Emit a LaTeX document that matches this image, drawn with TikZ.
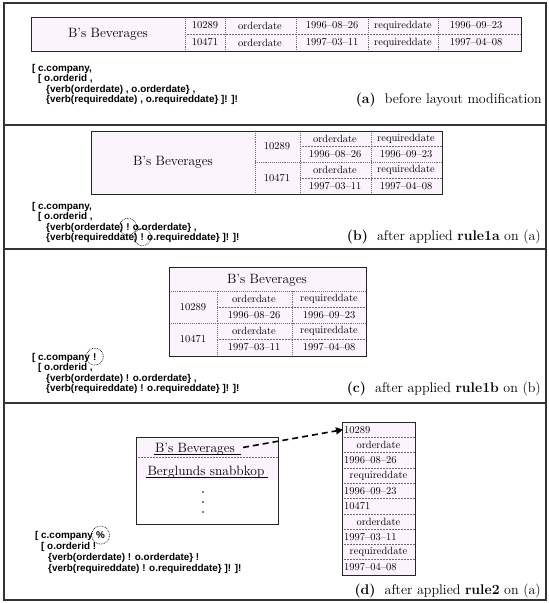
\documentclass[tikz,border=0pt]{standalone}
\usepackage{fontspec}
\newfontfamily\codefont{Liberation Sans}
\usetikzlibrary{arrows.meta}
\definecolor{cellpink}{RGB}{252,244,252}
\definecolor{rulegray}{RGB}{110,110,110}
\tikzset{
  frame/.style={line width=1.1pt, black!80},
  outer/.style={line width=0.8pt, black!85},
  sep/.style={rulegray, densely dotted, line width=0.9pt},
  subsep/.style={rulegray, densely dotted, line width=0.5pt},
  cell/.style={inner sep=1pt, font=\fontsize{10.5}{11}\selectfont},
  bev/.style={inner sep=1pt, font=\fontsize{13.5}{15}\selectfont},
  code/.style={inner sep=0pt, anchor=base west, font=\codefont\bfseries\fontsize{9.9}{11}\selectfont},
  capt/.style={inner sep=0pt, anchor=base east, font=\fontsize{14}{16}\selectfont},
  ring/.style={densely dotted, line width=0.7pt}
}
\begin{document}
\begin{tikzpicture}[x=1pt,y=-1pt]
            \useasboundingbox (0,0) rectangle (549,603);
            \draw[frame] (4,3) rectangle (546,600);
            \draw[frame] (4,125)--(546,125);
            \draw[frame] (4,249)--(546,249);
            \draw[frame] (4,403)--(546,403);
            \fill[cellpink] (31,17) rectangle (521,51);
            \draw[subsep] (185,34)--(521,34);
            \foreach \x in {185,225,296,368,438} \draw[sep] (\x,17)--(\x,51);
            \draw[outer] (31,17) rectangle (521,51);
            \node[bev] (a-co) at (108,34) {B's Beverages};
            \foreach \x/\p/\q [count=\i] in {205/10289/10471,260/orderdate/orderdate,332/1996–08–26/1997–03–11,403/requireddate/requireddate,476/1996–09–23/1997–04–08}
            {\node[cell] (a-u\i) at (\x,25.5) {\p}; \node[cell] (a-v\i) at (\x,42.5) {\q};}
            \node[code] (a-l1) at (32,71) {[ c.company,};
            \node[code] (a-l2) at (38,81.5) {[ o.orderid ,};
            \node[code] (a-l3) at (46,92) {\{verb(orderdate) , o.orderdate\} ,};
            \node[code] (a-l4) at (46,102.5) {\{verb(requireddate) , o.requireddate\} ]! ]!};
            \node[capt] (a-cap) at (542,103) {\textbf{(a)}\ \ before layout modification};
            \begin{scope}
                \fill[cellpink] (91,131) rectangle (442,194);
                \draw[sep] (255,131)--(255,194);
                \draw[sep] (300,131)--(300,194);
                \draw[sep] (371,131)--(371,194);
                \draw[sep] (255,162.5)--(442,162.5);
                \draw[subsep] (300,146.5)--(442,146.5);
                \draw[subsep] (300,178)--(442,178);
                \draw[outer] (91,131) rectangle (442,194);
                \node[bev] (b-co) at (173,162) {B's Beverages};
                \node[cell] (b-id1) at (277,146.5) {10289};
                \node[cell] (b-id2) at (277,178) {10471};
                \foreach \y/\p/\q [count=\i] in {138.5/orderdate/requireddate,154.5/1996–08–26/1996–09–23,170/orderdate/requireddate,186/1997–03–11/1997–04–08}
                {\node[cell] (b-o\i) at (335,\y) {\p}; \node[cell] (b-q\i) at (406,\y) {\q};}
                \node[code] (b-l1) at (32,209) {[ c.company,};
                \node[code] (b-l2) at (38,219.5) {[ o.orderid ,};
                \node[code] (b-l3) at (46,230) {\{verb(orderdate)};
                \node[code] (b-x1) at ([xshift=2.8pt]b-l3.base east) {!};
                \node[code] (b-l3r) at ([xshift=2.8pt]b-x1.base east) {o.orderdate\} ,};
                \node[code] (b-l4) at (46,240.5) {\{verb(requireddate)};
                \node[code] (b-x2) at ([xshift=2.8pt]b-l4.base east) {!};
                \node[code] (b-l4r) at ([xshift=2.8pt]b-x2.base east) {o.requireddate\} ]! ]!};
                \draw[ring] (b-x1) circle (8.5pt);
                \draw[ring] (b-x2) circle (8.5pt);
                \node[capt] (b-cap) at (541,240) {\textbf{(b)}\ \ after applied \textbf{rule1a} on (a)};
            \end{scope}
            \begin{scope}
                \fill[cellpink] (169,267) rectangle (366,356);
                \draw[sep] (169,291)--(366,291);
                \draw[sep] (169,323)--(366,323);
                \draw[sep] (217,291)--(217,356);
                \draw[sep] (292,291)--(292,356);
                \draw[subsep] (217,307)--(366,307);
                \draw[subsep] (217,339.5)--(366,339.5);
                \draw[outer] (169,267) rectangle (366,356);
                \node[bev] (c-co) at (267,280) {B's Beverages};
                \node[cell] (c-id1) at (193,307) {10289};
                \node[cell] (c-id2) at (193,339.5) {10471};
                \foreach \y/\p/\q [count=\i] in {299/orderdate/requireddate,315/1996–08–26/1996–09–23,331/orderdate/requireddate,347.5/1997–03–11/1997–04–08}
                {\node[cell] (c-o\i) at (254,\y) {\p}; \node[cell] (c-q\i) at (329,\y) {\q};}
                \node[code] (c-l1) at (32,360) {[ c.company};
                \node[code] (c-x1) at ([xshift=2.8pt]c-l1.base east) {!};
                \node[code] (c-l2) at (38,370.5) {[ o.orderid ,};
                \node[code] (c-l3) at (46,381) {\{verb(orderdate) ! o.orderdate\} ,};
                \node[code] (c-l4) at (46,391.5) {\{verb(requireddate) ! o.requireddate\} ]! ]!};
                \draw[ring] (c-x1) circle (8.5pt);
                \node[capt] (c-cap) at (541,392) {\textbf{(c)}\ \ after applied \textbf{rule1b} on (b)};
            \end{scope}
            \begin{scope}
                \fill[cellpink] (136,437) rectangle (278,480);
                \draw[subsep] (136,457)--(278,457);
                \draw[outer] (136,437) rectangle (278,524);
                \node[bev,anchor=base] (d-co) at (195,452) {B's Beverages};
                \node[bev,anchor=base] (d-co2) at (206,475) {Berglunds snabbkop};
                \draw[thin] ([yshift=-2pt]d-co.base west)--([xshift=5pt,yshift=-2pt]d-co.base east);
                \draw[thin] ([yshift=-2pt]d-co2.base west)--([xshift=2pt,yshift=-2pt]d-co2.base east);
                \foreach \y in {492,502,512} \fill (203,\y) circle (0.9pt);
                \fill[cellpink] (342,422) rectangle (415,575);
                \foreach \i in {1,...,9} \draw[subsep] (342,{422+15.3*\i})--(415,{422+15.3*\i});
                \draw[outer] (342,422) rectangle (415,575);
                \foreach \i/\t in {1/10289,3/1996–08–26,5/1996–09–23,6/10471,8/1997–03–11,10/1997–04–08}
                    \node[cell,anchor=west] (d-r\i) at (343,{422+15.3*\i-7.65}) {\t};
                \foreach \i/\t in {2/orderdate,4/requireddate,7/orderdate,9/requireddate}
                    \node[cell] (d-r\i) at (378.5,{422+15.3*\i-7.65}) {\t};
                \draw[-{Triangle[length=7pt,width=7pt]},line width=1.6pt,dash pattern=on 6pt off 4pt,shorten <=7pt] (d-co.east)--(d-r1.west);
                \node[code] (d-l1) at (35,538.5) {[ c.company};
                \node[code] (d-x1) at ([xshift=2.8pt]d-l1.base east) {\%};
                \node[code] (d-l2) at (41,549) {[ o.orderid !};
                \node[code] (d-l3) at (48,560) {\{verb(orderdate) ! o.orderdate\} !};
                \node[code] (d-l4) at (48,571) {\{verb(requireddate) ! o.requireddate\} ]! ]!};
                \draw[ring] (d-x1) circle (9pt);
                \node[capt] (d-cap) at (541,594) {\textbf{(d)}\ \ after applied \textbf{rule2} on (a)};
            \end{scope}
        \end{tikzpicture}
\end{document}
